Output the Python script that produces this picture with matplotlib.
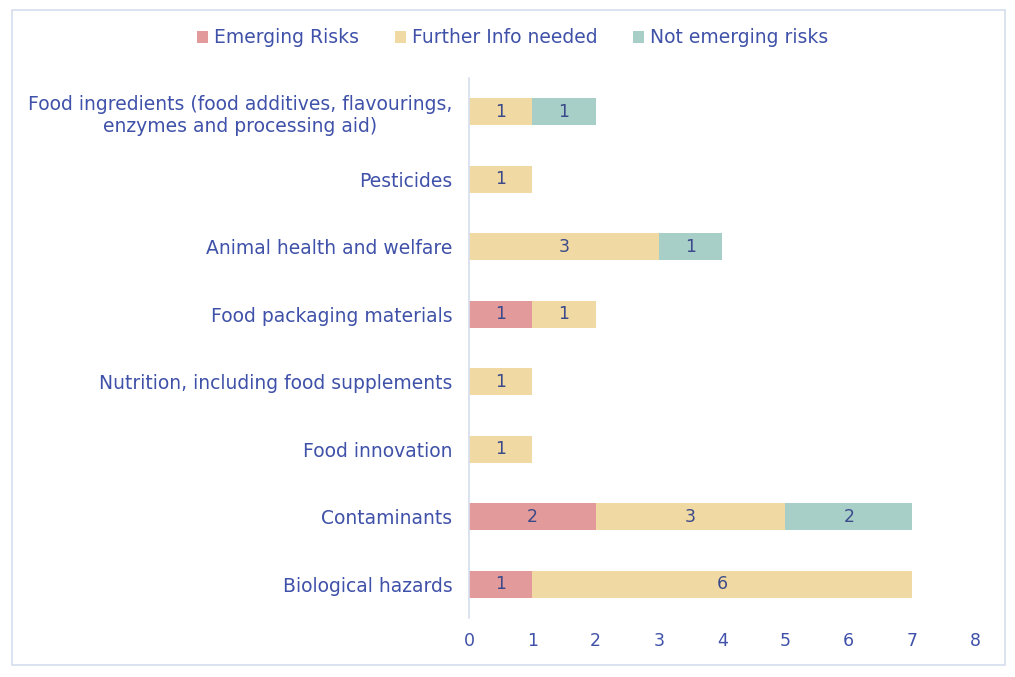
import numpy as np
import matplotlib.pyplot as plt
from matplotlib.patches import Rectangle

categories = [
    "Food ingredients (food additives, flavourings,\nenzymes and processing aid)",
    "Pesticides",
    "Animal health and welfare",
    "Food packaging materials",
    "Nutrition, including food supplements",
    "Food innovation",
    "Contaminants",
    "Biological hazards",
]
emerging = [0, 0, 0, 1, 0, 0, 2, 1]
further_info = [1, 1, 3, 1, 1, 1, 3, 6]
not_emerging = [1, 0, 1, 0, 0, 0, 2, 0]

series = [
    ("Emerging Risks", emerging, "#E39A9A"),
    ("Further Info needed", further_info, "#F0D9A3"),
    ("Not emerging risks", not_emerging, "#A7CFC8"),
]

text_col = "#3F51A8"
num_col = "#3B4A8A"

fig = plt.figure(figsize=(10.15, 6.77), dpi=100)
ax = fig.add_axes([0.462, 0.087, 0.499, 0.798])

fig.patches.append(Rectangle((0.012, 0.018), 0.978, 0.967, transform=fig.transFigure,
                             fill=False, edgecolor="#D6DEEE", linewidth=1.2))

y = np.arange(len(categories))
left = np.zeros(len(categories))
handles = []
for name, vals, col in series:
    vals = np.array(vals, dtype=float)
    bars = ax.barh(y, vals, left=left, height=0.4, color=col, label=name)
    for yi, l, v in zip(y, left, vals):
        if v > 0:
            ax.text(l + v / 2, yi, f"{int(v)}", ha="center", va="center",
                    fontsize=12.5, color=num_col)
    left += vals
    handles.append(bars)

ax.set_xlim(0, 8)
ax.set_ylim(len(categories) - 0.5, -0.5)
ax.set_yticks(y)
ax.set_yticklabels(categories, fontsize=13.5, color=text_col)
for lab in ax.get_yticklabels():
    lab.set_multialignment("center")
ax.set_xticks(range(9))
ax.set_xticklabels([str(i) for i in range(9)], fontsize=12.5, color=text_col)
ax.tick_params(axis="both", length=0)
ax.tick_params(axis="y", pad=12)
ax.tick_params(axis="x", pad=10)
for s in ["top", "right", "bottom"]:
    ax.spines[s].set_visible(False)
ax.spines["left"].set_color("#D6DEEE")
ax.spines["left"].set_linewidth(1.2)

leg = fig.legend(handles=handles, loc="center", bbox_to_anchor=(0.505, 0.944), ncol=3,
                 frameon=False, fontsize=13.5, handlelength=0.6, handleheight=0.6,
                 handletextpad=0.3, columnspacing=1.9)
for t in leg.get_texts():
    t.set_color(text_col)

fig.savefig("out.png", dpi=100)
